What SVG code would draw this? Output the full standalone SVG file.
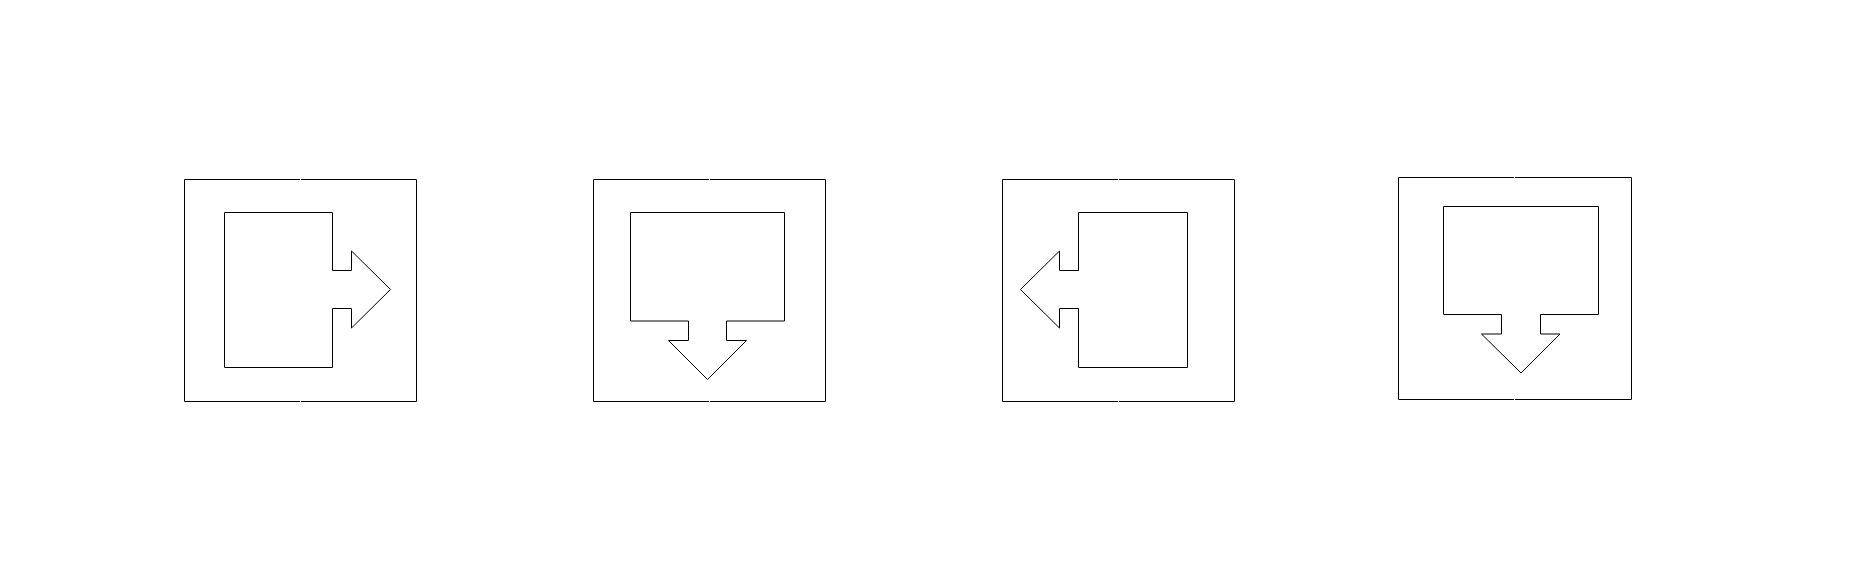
<svg xmlns="http://www.w3.org/2000/svg" width="1861" height="580" viewBox="0 0 1861 580">
<style>
.frame{fill:none;stroke:#000;stroke-width:1}
.shape{fill:#fff;stroke:#000;stroke-width:1;stroke-linejoin:miter}
</style>
<rect width="1861" height="580" fill="#fff"/>
<g id="node1">
<path class="frame" d="M300,179.5 H184.5 V401.5 H300 M301,179.5 H416.5 V401.5 H301"/>
<path class="shape" d="M224.5,212.5 H332.5 V270.5 H351.5 V251 L390.5,289.5 L351.5,328 V308.5 H332.5 V367.5 H224.5 Z"/>
</g>
<g id="node2">
<path class="frame" d="M709,179.5 H593.5 V401.5 H709 M710,179.5 H825.5 V401.5 H710"/>
<path class="shape" d="M630.5,212.5 H784.5 V321 H726.5 V340.5 H746.5 L707.5,379.5 L668.5,340.5 H688.5 V321 H630.5 Z"/>
</g>
<g id="node3">
<path class="frame" d="M1118,179.5 H1002.5 V401.5 H1118 M1119,179.5 H1234.5 V401.5 H1119"/>
<path class="shape" d="M1187.5,212.5 H1078.5 V270.5 H1059.5 V251 L1020.5,289.5 L1059.5,328 V308.5 H1078.5 V367.5 H1187.5 Z"/>
</g>
<g id="node4">
<path class="frame" d="M1514,177.5 H1398.5 V399.5 H1514 M1515,177.5 H1631.5 V399.5 H1515"/>
<path class="shape" d="M1443.5,206.5 H1598.5 V314.5 H1540.5 V334 H1560 L1521,373 L1481.5,334 H1501.5 V314.5 H1443.5 Z"/>
</g>
<g id="connectors"></g>
</svg>
